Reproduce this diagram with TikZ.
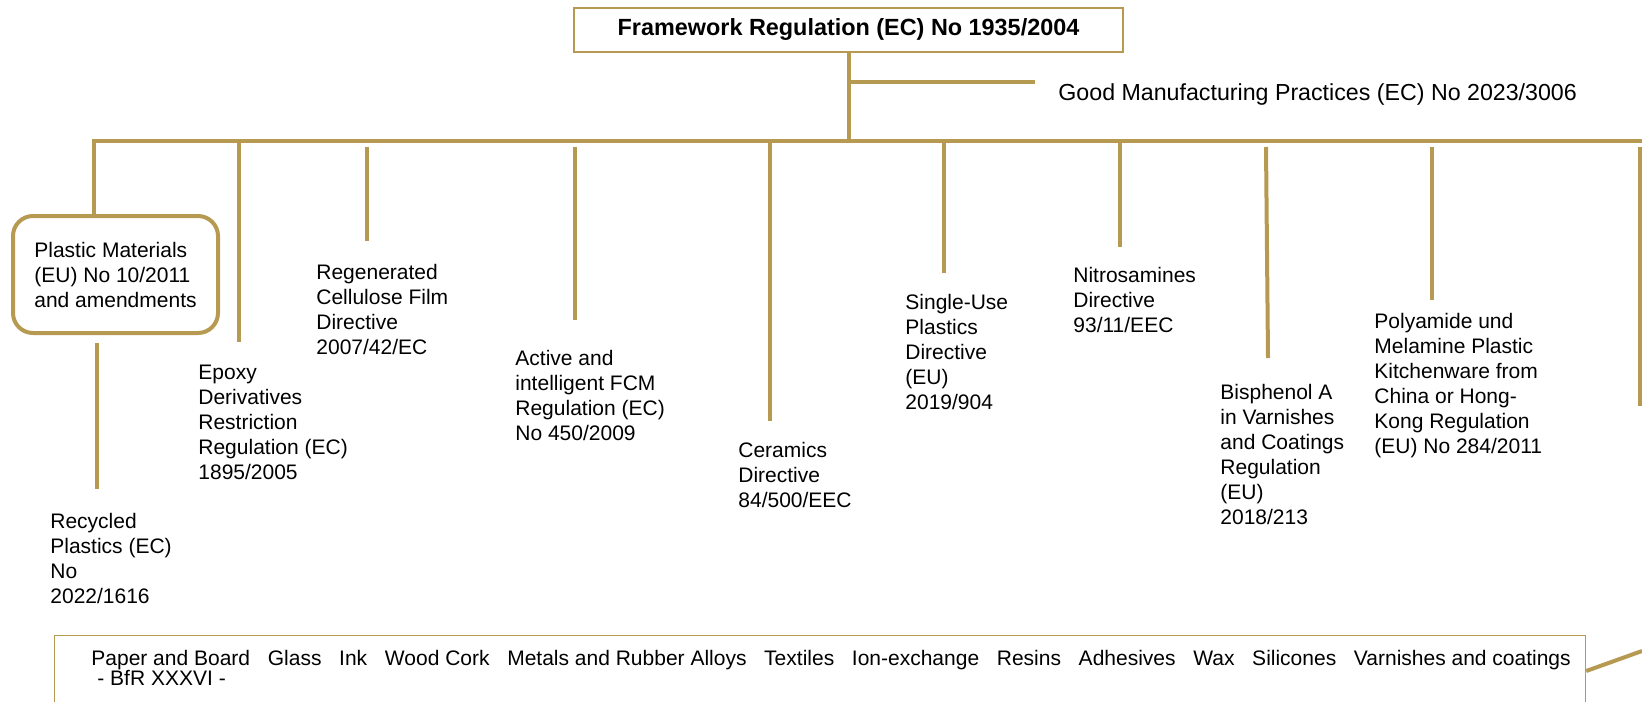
\documentclass[tikz,border=0pt]{standalone}
\usepackage{fontspec}
\setmainfont{Liberation Sans}
\definecolor{gold}{RGB}{182,154,82}
\newcommand{\itemgap}{\hspace{8.85pt}}
\begin{document}
\begin{tikzpicture}[x=0.5pt,y=-0.5pt]
      \useasboundingbox (0,0) rectangle (1642,701);

      % boxes
      \node[draw=gold,line width=1.4pt,minimum width=274.5pt,minimum height=22pt,
        font=\bfseries\fontsize{11.7}{14}\selectfont] (frame) at (848.5,30) {Framework Regulation (EC) No 1935/2004};
      \node[draw=gold,line width=2pt,rounded corners=10pt,minimum width=102.5pt,minimum height=58.5pt,
        align=left,font=\fontsize{10.5}{12.5}\selectfont] (plastic) at (115.5,274.5) {Plastic Materials\\(EU) No 10/2011\\and amendments};
      \node[draw=gold,line width=0.6pt,anchor=north west,minimum width=765.5pt,minimum height=60pt] (others) at (54,635) {};

      \begin{scope}[every node/.style={anchor=north west,inner sep=0pt,align=left,font=\fontsize{10.5}{12.5}\selectfont}]
        \node (gmp)       at (1058,83)  {\fontsize{11.6}{14}\selectfont Good Manufacturing Practices (EC) No 2023/3006};
        \node (recycled)  at (50,513)   {Recycled\\Plastics (EC)\\No\\2022/1616};
        \node (epoxy)     at (198,365)  {Epoxy\\Derivatives\\Restriction\\Regulation (EC)\\1895/2005};
        \node (regen)     at (316,264)  {Regenerated\\Cellulose Film\\Directive\\2007/42/EC};
        \node (active)    at (515,350)  {Active and\\intelligent FCM\\Regulation (EC)\\No 450/2009};
        \node (ceramics)  at (738,442)  {Ceramics\\Directive\\84/500/EEC};
        \node (singleuse) at (905,294)  {Single-Use\\Plastics\\Directive\\(EU)\\2019/904};
        \node (nitro)     at (1073,267) {Nitrosamines\\Directive\\93/11/EEC};
        \node (bpa)       at (1220,384) {Bisphenol A\\in Varnishes\\and Coatings\\Regulation\\(EU)\\2018/213};
        \node (polyamide) at (1374,313) {Polyamide und\\Melamine Plastic\\Kitchenware from\\China or Hong-\\Kong Regulation\\(EU) No 284/2011};
        \node[font=\fontsize{10.5}{10}\selectfont] (otherlist) at (91,650) {Paper and Board\itemgap Glass\itemgap Ink\itemgap Wood Cork\itemgap Metals and Rubber Alloys\itemgap Textiles\itemgap Ion-exchange\itemgap Resins\itemgap Adhesives\itemgap Wax\itemgap Silicones\itemgap Varnishes and coatings\\\hspace*{3pt}- BfR XXXVI -};
      \end{scope}

      % line ends
      \coordinate (bus-l) at (94,141);
      \coordinate (bus-r) at (1642,141);
      \coordinate (gmp-l) at (848,82);
      \coordinate (gmp-r) at (1035,82);
      \coordinate (recycled-top) at (97,343);
      \coordinate (recycled-end) at (97,489);
      \coordinate (epoxy-top) at (239,141);
      \coordinate (epoxy-end) at (239,342);
      \coordinate (regen-top) at (367,147);
      \coordinate (regen-end) at (367,241);
      \coordinate (active-top) at (575,147);
      \coordinate (active-end) at (575,320);
      \coordinate (ceramics-top) at (770,141);
      \coordinate (ceramics-end) at (770,421);
      \coordinate (singleuse-top) at (944,141);
      \coordinate (singleuse-end) at (944,273);
      \coordinate (nitro-top) at (1120,141);
      \coordinate (nitro-end) at (1120,247);
      \coordinate (bpa-top) at (1266,147);
      \coordinate (bpa-end) at (1268,358);
      \coordinate (polyamide-top) at (1432,147);
      \coordinate (polyamide-end) at (1432,300);
      \coordinate (next-top) at (1640,147);
      \coordinate (next-end) at (1640,406);
      \coordinate (others-r) at (1642,651);

      \begin{scope}[every edge/.style={draw=gold,line width=2pt}]
        \path (frame.south) edge (frame.south |- bus-l);
        \path (gmp-l) edge (gmp-r);
        \path ([xshift=-1pt]bus-l) edge (bus-r);
        \path (bus-l) edge (bus-l |- plastic.north);
        \path (recycled-top) edge (recycled-end);
        \path (epoxy-top) edge (epoxy-end);
        \path (regen-top) edge (regen-end);
        \path (active-top) edge (active-end);
        \path (ceramics-top) edge (ceramics-end);
        \path (singleuse-top) edge (singleuse-end);
        \path (nitro-top) edge (nitro-end);
        \path (bpa-top) edge (bpa-end);
        \path (polyamide-top) edge (polyamide-end);
        \path (next-top) edge (next-end);
        \path (others.east |- 0,671) edge (others-r);
      \end{scope}

    \end{tikzpicture}
\end{document}
